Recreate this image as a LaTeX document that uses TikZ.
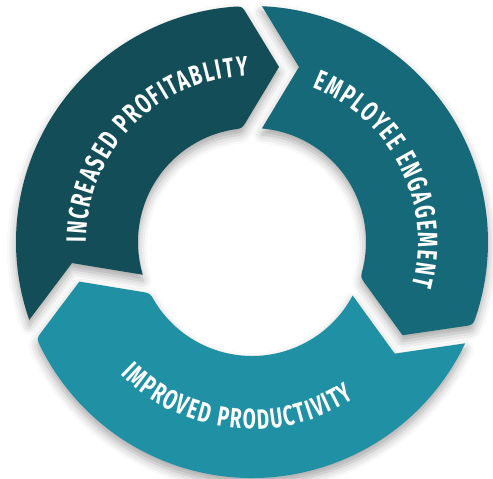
\documentclass[tikz,border=0pt]{standalone}
\usepackage{fontspec}
\newfontfamily\ringfont[FakeStretch=0.68]{Fira Sans}
\usetikzlibrary{calc,decorations.text,shadows.blur}

\definecolor{profitcol}{HTML}{134D57}
\definecolor{engagecol}{HTML}{166979}
\definecolor{productcol}{HTML}{2091A4}

%% one arrow of the ring: #1 gap at its tail, #2 gap at its head
\newcommand{\ringpath}[2]{({#1-2.43}:236pt)
  arc[start angle={#1-2.43}, end angle={#2+4.63}, radius=236pt]
  .. controls ({#2+2.43}:236pt) .. ($({#2+2.43}:236pt)!9pt!({#2-8.77}:177.1pt)$)
  -- ({#2-8.77}:177.1pt)
  -- ($({#2+5.01}:114pt)!9pt!({#2-8.77}:177.1pt)$)
  .. controls ({#2+5.01}:114pt) .. ({#2+9.53}:114pt)
  arc[start angle={#2+9.53}, end angle={#1-5.01}, radius=114pt]
  -- ({#1-15.03}:181.2pt) -- cycle}

\begin{document}
\begin{tikzpicture}[
  ringshadow/.style={blur shadow={shadow xshift=0pt, shadow yshift=-6pt,
    shadow blur radius=9pt, shadow opacity=35}},
  ringlabel/.style={decorate, decoration={text along path, text align=center,
    text color=white, text={|\ringfont\bfseries\fontsize{28}{28}\selectfont\kern1.7pt|#1}}}
]

\useasboundingbox (-252pt,-237pt) rectangle (241pt,242pt);

%% shadows
\path[ringshadow] \ringpath{201.7}{90};
\path[ringshadow] \ringpath{90}{-23};
\path[ringshadow] \ringpath{-23}{-158.3};

%% arrows
\fill[profitcol] \ringpath{201.7}{90};     %% profitability
\fill[engagecol] \ringpath{90}{-23};       %% engagement
\fill[productcol] \ringpath{-23}{-158.3};  %% productivity

%% labels
\path[ringlabel={INCREASED PROFITABLITY}] (202:166pt) arc[start angle=202, end angle=70, radius=166pt];
\path[ringlabel={EMPLOYEE ENGAGEMENT}] (92:166pt) arc[start angle=92, end angle=-38, radius=166pt];
\path[ringlabel={IMPROVED PRODUCTIVITY}] (199:187pt) arc[start angle=199, end angle=329, radius=187pt];

\end{tikzpicture}
\end{document}
